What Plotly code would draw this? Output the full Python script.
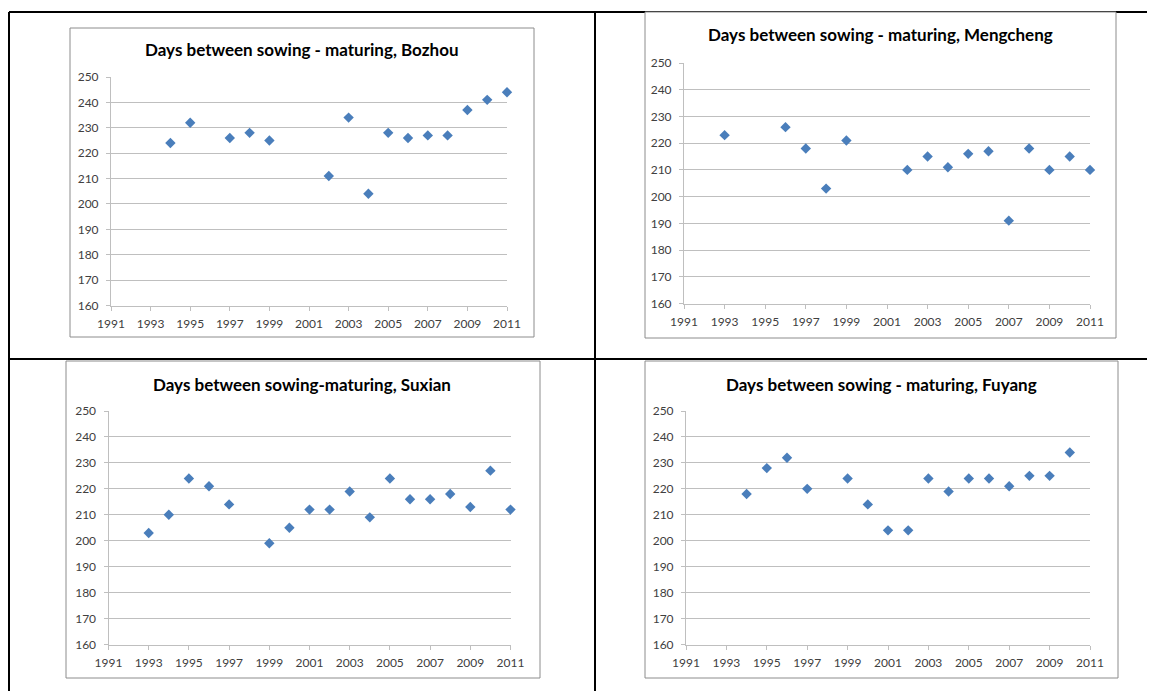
import plotly.graph_objects as go

W, H = 1155, 691
OFF = 8  # page body margin offset compensation

# ---- data ----
bozhou_years = [1994, 1995, 1997, 1998, 1999, 2002, 2003, 2004, 2005, 2006, 2007, 2008, 2009, 2010, 2011]
bozhou_days = [224, 232, 226, 228, 225, 211, 234, 204, 228, 226, 227, 227, 237, 241, 244]

mengcheng_years = [1993, 1996, 1997, 1998, 1999, 2002, 2003, 2004, 2005, 2006, 2007, 2008, 2009, 2010, 2011]
mengcheng_days = [223, 226, 218, 203, 221, 210, 215, 211, 216, 217, 191, 218, 210, 215, 210]

suxian_years = [1993, 1994, 1995, 1996, 1997, 1999, 2000, 2001, 2002, 2003, 2004, 2005, 2006, 2007, 2008, 2009, 2010, 2011]
suxian_days = [203, 210, 224, 221, 214, 199, 205, 212, 212, 219, 209, 224, 216, 216, 218, 213, 227, 212]

fuyang_years = [1994, 1995, 1996, 1997, 1999, 2000, 2001, 2002, 2003, 2004, 2005, 2006, 2007, 2008, 2009, 2010]
fuyang_days = [218, 228, 232, 220, 224, 214, 204, 204, 224, 219, 224, 224, 221, 225, 225, 234]

titles = [
    "Days between sowing - maturing, Bozhou",
    "Days between sowing - maturing, Mengcheng",
    "Days between sowing-maturing, Suxian",
    "Days between sowing - maturing, Fuyang",
]
x_ticks = list(range(1991, 2012, 2))
y_ticks = list(range(160, 251, 10))

series = [
    (bozhou_years, bozhou_days),
    (mengcheng_years, mengcheng_days),
    (suxian_years, suxian_days),
    (fuyang_years, fuyang_days),
]

# pixel geometry: (plot left, plot right, plot top(250), plot bottom(160), box l, r, t, b, title x, title y)
geo = [
    (111, 507, 77, 305.5, 70, 534, 28, 337, 302, 50),
    (684, 1090, 63, 303.5, 645, 1116, 12, 338, 880, 35),
    (108.5, 510.5, 411, 644.5, 66, 540, 361, 678, 302, 384),
    (686, 1090, 411, 644.5, 645, 1118, 361, 678, 881, 384),
]

def fx(px):
    return (px - OFF) / W

def fy(py):
    return 1 - (py - OFF) / H

fig = go.Figure()
font_family = "Lato, 'Open Sans', sans-serif"

# table borders (drawn first so chart boxes can cover them)
tbl = "#000000"
shapes = [
    dict(type="line", xref="paper", yref="paper", x0=fx(9), x1=1, y0=fy(12), y1=fy(12), line=dict(color=tbl, width=2), layer="below"),
    dict(type="line", xref="paper", yref="paper", x0=fx(9), x1=1, y0=fy(359), y1=fy(359), line=dict(color=tbl, width=2), layer="below"),
    dict(type="line", xref="paper", yref="paper", x0=fx(9), x1=fx(9), y0=fy(12), y1=0, line=dict(color=tbl, width=2), layer="below"),
    dict(type="line", xref="paper", yref="paper", x0=fx(595), x1=fx(595), y0=fy(12), y1=0, line=dict(color=tbl, width=2), layer="below"),
]
annotations = []

for i, ((xs, ys), g, title) in enumerate(zip(series, geo, titles)):
    n = "" if i == 0 else str(i + 1)
    pl, pr, pt, pb, bl, br, bt, bb, tx, ty = g
    fig.add_trace(go.Scatter(
        x=xs, y=ys, mode="markers",
        marker=dict(symbol="diamond", size=8, color="#4A7EBB", line=dict(width=0)),
        xaxis="x" + n, yaxis="y" + n, cliponaxis=False, showlegend=False,
        hoverinfo="x+y",
    ))
    fig.layout["xaxis" + n] = dict(
        domain=[fx(pl), fx(pr)], range=[1991, 2011], anchor="y" + n,
        tickvals=x_ticks, ticks="outside", ticklen=4, tickcolor="#BFBFBF",
        showline=True, linecolor="#BFBFBF", linewidth=1, showgrid=False,
        zeroline=False, automargin=False, ticklabelstandoff=3,
        tickfont=dict(family=font_family, size=12, color="#404040"),
        fixedrange=True,
    )
    fig.layout["yaxis" + n] = dict(
        domain=[fy(pb), fy(pt)], range=[160, 250], anchor="x" + n,
        tickvals=y_ticks, ticks="outside", ticklen=4, tickcolor="#BFBFBF",
        showline=True, linecolor="#BFBFBF", linewidth=1, showgrid=True,
        gridcolor="#BFBFBF", gridwidth=1, zeroline=False, automargin=False,
        ticklabelstandoff=5,
        tickfont=dict(family=font_family, size=12, color="#404040"),
        fixedrange=True,
    )
    # chart box (white fill, grey border)
    shapes.append(dict(type="rect", xref="paper", yref="paper",
                       x0=fx(bl), x1=fx(br), y0=fy(bb), y1=fy(bt),
                       line=dict(color="#8C8C8C", width=1), fillcolor="white", layer="below"))
    annotations.append(dict(text="<b>" + title + "</b>", xref="paper", yref="paper",
                            x=fx(tx), y=fy(ty), xanchor="center", yanchor="middle",
                            showarrow=False, font=dict(family=font_family, size=17, color="#000000")))

fig.update_layout(
    template="none",
    width=W, height=H, autosize=False,
    margin=dict(l=0, r=0, t=0, b=0, pad=0),
    paper_bgcolor="white", plot_bgcolor="rgba(0,0,0,0)",
    shapes=shapes, annotations=annotations,
    showlegend=False,
)

fig.write_html("out.html")
